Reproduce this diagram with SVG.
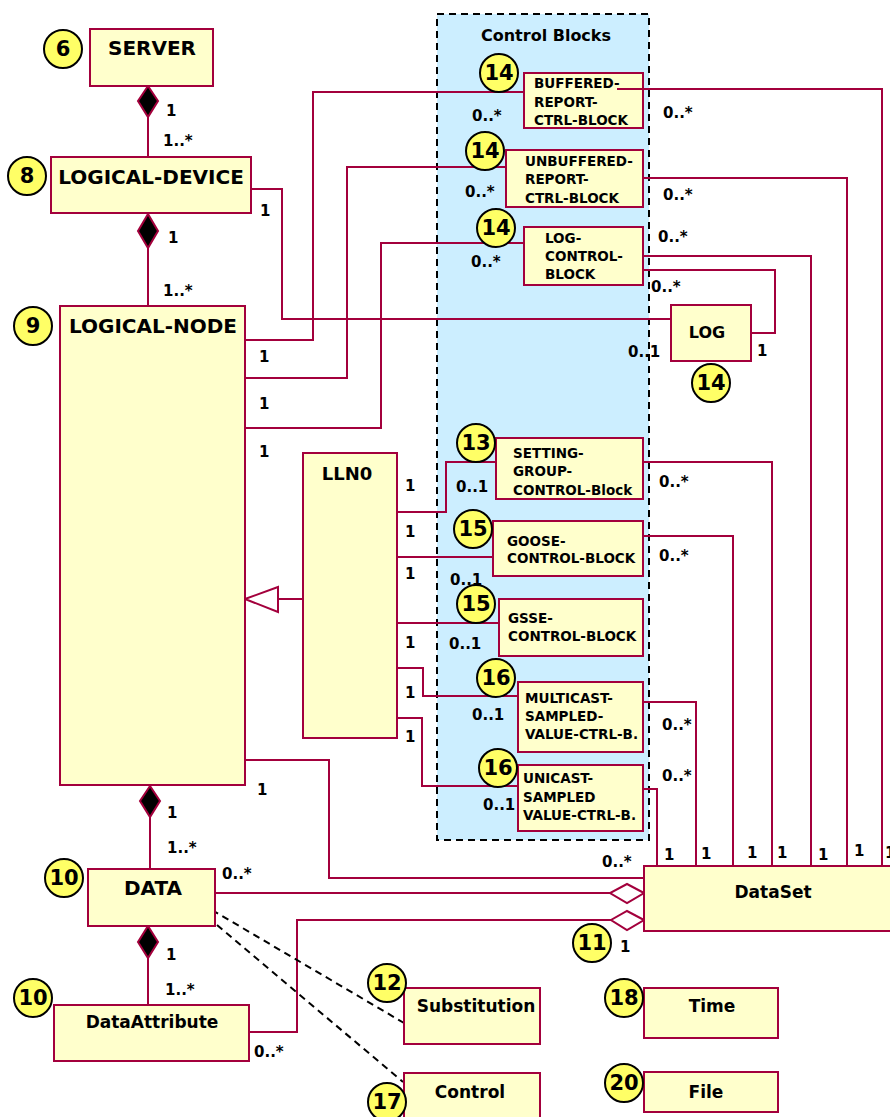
<svg xmlns="http://www.w3.org/2000/svg" width="890" height="1117" viewBox="0 0 890 1117">
<style>
.box{fill:#ffffcc;stroke:#a3003c;stroke-width:2}
.ln{fill:none;stroke:#a3003c;stroke-width:2}
.dash{fill:none;stroke:#000;stroke-width:2;stroke-dasharray:7,5}
.c{fill:#ffff66;stroke:#000;stroke-width:2}
.cn{font-family:"DejaVu Sans",Verdana,sans-serif;font-weight:bold;font-size:21px;text-anchor:middle;fill:#000}
.t{font-family:"DejaVu Sans",Verdana,sans-serif;font-weight:bold;fill:#000}
.big{font-size:20px}
.mid{font-size:17px}
.sm{font-size:13.5px}
.m{font-family:"DejaVu Sans",Verdana,sans-serif;font-weight:bold;font-size:15px;fill:#000}
.mc{text-anchor:middle}
</style>
<rect width="890" height="1117" fill="#fff"/>

<g id="control-blocks-area">
<rect x="437" y="14" width="212" height="826" fill="#cceeff"/>
<rect x="437" y="14" width="212" height="826" class="dash"/>
<text x="546" y="41" class="t mc" font-size="16px">Control Blocks</text>
</g>

<g id="connectors">
<polyline class="ln" points="148,117 148,157"/>
<polygon points="148,86 158,101 148,117 138,101" fill="#000" stroke="#a3003c" stroke-width="2"/>
<polyline class="ln" points="148,248 148,306"/>
<polygon points="148,214 158,231 148,248 138,231" fill="#000" stroke="#a3003c" stroke-width="2"/>
<polyline class="ln" points="150,817 150,869"/>
<polygon points="150,786 160,801 150,817 140,801" fill="#000" stroke="#a3003c" stroke-width="2"/>
<polyline class="ln" points="148,958 148,1005"/>
<polygon points="148,926 158,942 148,958 138,942" fill="#000" stroke="#a3003c" stroke-width="2"/>
<polyline class="ln" points="251,189 282,189 282,319 671,319"/>
<polyline class="ln" points="245,340 313,340 313,92 524,92"/>
<polyline class="ln" points="245,378 347,378 347,167 506,167"/>
<polyline class="ln" points="245,428 381,428 381,243 524,243"/>
<polyline class="ln" points="617,89 882,89 882,866"/>
<polyline class="ln" points="643,178 847,178 847,866"/>
<polyline class="ln" points="643,256 811,256 811,866"/>
<polyline class="ln" points="643,270 775,270 775,333 751,333"/>
<polyline class="ln" points="643,462 772,462 772,866"/>
<polyline class="ln" points="643,536 733,536 733,866"/>
<polyline class="ln" points="643,702 696,702 696,866"/>
<polyline class="ln" points="643,789 657,789 657,866"/>
<polyline class="ln" points="397,512 446,512 446,462 496,462"/>
<polyline class="ln" points="397,557 493,557"/>
<polyline class="ln" points="397,623 499,623"/>
<polyline class="ln" points="397,668 423,668 423,696 522,696"/>
<polyline class="ln" points="397,718 422,718 422,786 518,786"/>
<polyline class="ln" points="278,599 303,599"/>
<polygon points="245,599 278,587 278,612" fill="#fff" stroke="#a3003c" stroke-width="2"/>
<polyline class="ln" points="245,760 329,760 329,878 644,878"/>
<polyline class="ln" points="215,893 610,893"/>
<polygon points="644,893 627,884 610,893 627,903" fill="#fff" stroke="#a3003c" stroke-width="2"/>
<polyline class="ln" points="249,1032 297,1032 297,920 611,920"/>
<polygon points="644,920 627,911 611,920 627,930" fill="#fff" stroke="#a3003c" stroke-width="2"/>
<line x1="212" y1="910" x2="404" y2="1023" stroke="#000" stroke-width="2" stroke-dasharray="7,5"/>
<line x1="217" y1="925" x2="403" y2="1082" stroke="#000" stroke-width="2" stroke-dasharray="7,5"/>
</g>

<g id="server">
<rect x="90" y="29" width="123" height="57" class="box"/>
<text x="152" y="55" class="t big mc">SERVER</text>
<circle cx="63" cy="49" r="19" class="c"/><text x="63" y="56" class="cn">6</text>
</g>

<g id="logical-device">
<rect x="51" y="157" width="200" height="56" class="box"/>
<text x="151" y="184" class="t big mc">LOGICAL-DEVICE</text>
<circle cx="27" cy="176" r="19" class="c"/><text x="27" y="183" class="cn">8</text>
</g>

<g id="logical-node">
<rect x="60" y="306" width="185" height="479" class="box"/>
<text x="153" y="333" class="t big mc">LOGICAL-NODE</text>
<circle cx="33" cy="326" r="19" class="c"/><text x="33" y="333" class="cn">9</text>
</g>

<g id="lln0">
<rect x="303" y="453" width="94" height="285" class="box"/>
<text x="347" y="480" class="t mc" font-size="18px">LLN0</text>
</g>

<g id="brcb">
<rect x="524" y="73" width="119" height="55" class="box"/>
<text class="t sm"><tspan x="534" y="88">BUFFERED-</tspan><tspan x="534" y="107">REPORT-</tspan><tspan x="534" y="125">CTRL-BLOCK</tspan></text>
<line x1="617" y1="89" x2="643" y2="89" class="ln"/>
<circle cx="499" cy="73" r="19" class="c"/><text x="499" y="80" class="cn">14</text>
</g>

<g id="urcb">
<rect x="506" y="150" width="137" height="57" class="box"/>
<text class="t sm"><tspan x="525" y="166">UNBUFFERED-</tspan><tspan x="525" y="184">REPORT-</tspan><tspan x="525" y="203">CTRL-BLOCK</tspan></text>
<circle cx="485" cy="151" r="19" class="c"/><text x="485" y="158" class="cn">14</text>
</g>

<g id="lcb">
<rect x="524" y="227" width="119" height="58" class="box"/>
<text class="t sm"><tspan x="545" y="243">LOG-</tspan><tspan x="545" y="261">CONTROL-</tspan><tspan x="545" y="279">BLOCK</tspan></text>
<circle cx="496" cy="228" r="19" class="c"/><text x="496" y="235" class="cn">14</text>
</g>

<g id="log">
<rect x="671" y="305" width="80" height="56" class="box"/>
<text x="707" y="338" class="t mc" font-size="16px">LOG</text>
<circle cx="711" cy="383" r="19" class="c"/><text x="711" y="390" class="cn">14</text>
</g>

<g id="sgcb">
<rect x="496" y="438" width="147" height="61" class="box"/>
<text class="t sm"><tspan x="513" y="458">SETTING-</tspan><tspan x="513" y="476">GROUP-</tspan><tspan x="513" y="495">CONTROL-Block</tspan></text>
<circle cx="476" cy="443" r="19" class="c"/><text x="476" y="450" class="cn">13</text>
</g>

<g id="gocb">
<rect x="493" y="521" width="150" height="55" class="box"/>
<text class="t sm"><tspan x="507" y="546">GOOSE-</tspan><tspan x="507" y="563">CONTROL-BLOCK</tspan></text>
<circle cx="473" cy="529" r="19" class="c"/><text x="473" y="536" class="cn">15</text>
</g>

<g id="gscb">
<rect x="499" y="599" width="144" height="57" class="box"/>
<text class="t sm"><tspan x="508" y="623">GSSE-</tspan><tspan x="508" y="641">CONTROL-BLOCK</tspan></text>
<circle cx="476" cy="604" r="19" class="c"/><text x="476" y="611" class="cn">15</text>
</g>

<g id="msvcb">
<rect x="518" y="682" width="125" height="70" class="box"/>
<text class="t sm"><tspan x="525" y="703">MULTICAST-</tspan><tspan x="525" y="721">SAMPLED-</tspan><tspan x="525" y="739">VALUE-CTRL-B.</tspan></text>
<circle cx="496" cy="678" r="19" class="c"/><text x="496" y="685" class="cn">16</text>
</g>

<g id="usvcb">
<rect x="518" y="765" width="125" height="66" class="box"/>
<text class="t sm"><tspan x="523" y="783">UNICAST-</tspan><tspan x="523" y="802">SAMPLED</tspan><tspan x="523" y="820">VALUE-CTRL-B.</tspan></text>
<circle cx="498" cy="768" r="19" class="c"/><text x="498" y="775" class="cn">16</text>
</g>

<g id="dataset">
<rect x="644" y="866" width="260" height="65" class="box"/>
<text x="773" y="898" class="t mid mc">DataSet</text>
<circle cx="592" cy="943" r="19" class="c"/><text x="592" y="950" class="cn">11</text>
</g>

<g id="data">
<rect x="88" y="869" width="127" height="57" class="box"/>
<text x="153" y="895" class="t big mc">DATA</text>
<circle cx="64" cy="878" r="19" class="c"/><text x="64" y="885" class="cn">10</text>
</g>

<g id="data-attribute">
<rect x="54" y="1005" width="195" height="56" class="box"/>
<text x="152" y="1028" class="t mid mc">DataAttribute</text>
<circle cx="33" cy="998" r="19" class="c"/><text x="33" y="1005" class="cn">10</text>
</g>

<g id="substitution">
<rect x="404" y="988" width="136" height="56" class="box"/>
<text x="476" y="1012" class="t mid mc">Substitution</text>
<circle cx="387" cy="983" r="19" class="c"/><text x="387" y="990" class="cn">12</text>
</g>

<g id="control">
<rect x="404" y="1073" width="136" height="50" class="box"/>
<text x="470" y="1098" class="t mid mc">Control</text>
<circle cx="387" cy="1102" r="19" class="c"/><text x="387" y="1109" class="cn">17</text>
</g>

<g id="time">
<rect x="644" y="988" width="134" height="50" class="box"/>
<text x="712" y="1012" class="t mid mc">Time</text>
<circle cx="624" cy="998" r="19" class="c"/><text x="624" y="1005" class="cn">18</text>
</g>

<g id="file">
<rect x="644" y="1072" width="134" height="40" class="box"/>
<text x="706" y="1098" class="t mid mc">File</text>
<circle cx="624" cy="1083" r="19" class="c"/><text x="624" y="1090" class="cn">20</text>
</g>

<g id="multiplicities">
<text class="m" x="166" y="116">1</text>
<text class="m" x="163" y="146">1..*</text>
<text class="m" x="168" y="243">1</text>
<text class="m" x="163" y="296">1..*</text>
<text class="m" x="260" y="216">1</text>
<text class="m" x="472" y="121">0..*</text>
<text class="m" x="663" y="118">0..*</text>
<text class="m" x="465" y="197">0..*</text>
<text class="m" x="663" y="200">0..*</text>
<text class="m" x="471" y="267">0..*</text>
<text class="m" x="658" y="242">0..*</text>
<text class="m" x="651" y="292">0..*</text>
<text class="m" x="757" y="356">1</text>
<text class="m" x="628" y="357">0..1</text>
<text class="m" x="259" y="362">1</text>
<text class="m" x="259" y="409">1</text>
<text class="m" x="259" y="457">1</text>
<text class="m" x="405" y="491">1</text>
<text class="m" x="456" y="492">0..1</text>
<text class="m" x="659" y="487">0..*</text>
<text class="m" x="405" y="537">1</text>
<text class="m" x="659" y="561">0..*</text>
<text class="m" x="405" y="579">1</text>
<text class="m" x="450" y="585">0..1</text>
<text class="m" x="405" y="648">1</text>
<text class="m" x="449" y="649">0..1</text>
<text class="m" x="405" y="698">1</text>
<text class="m" x="472" y="720">0..1</text>
<text class="m" x="662" y="730">0..*</text>
<text class="m" x="405" y="742">1</text>
<text class="m" x="483" y="810">0..1</text>
<text class="m" x="662" y="781">0..*</text>
<text class="m" x="257" y="795">1</text>
<text class="m" x="167" y="818">1</text>
<text class="m" x="167" y="853">1..*</text>
<text class="m" x="222" y="879">0..*</text>
<text class="m" x="602" y="867">0..*</text>
<text class="m" x="620" y="952">1</text>
<text class="m" x="166" y="960">1</text>
<text class="m" x="165" y="995">1..*</text>
<text class="m" x="254" y="1057">0..*</text>
<text class="m" x="664" y="860">1</text>
<text class="m" x="701" y="859">1</text>
<text class="m" x="747" y="858">1</text>
<text class="m" x="777" y="858">1</text>
<text class="m" x="818" y="860">1</text>
<text class="m" x="854" y="856">1</text>
<text class="m" x="885" y="858">1</text>
</g>
</svg>
